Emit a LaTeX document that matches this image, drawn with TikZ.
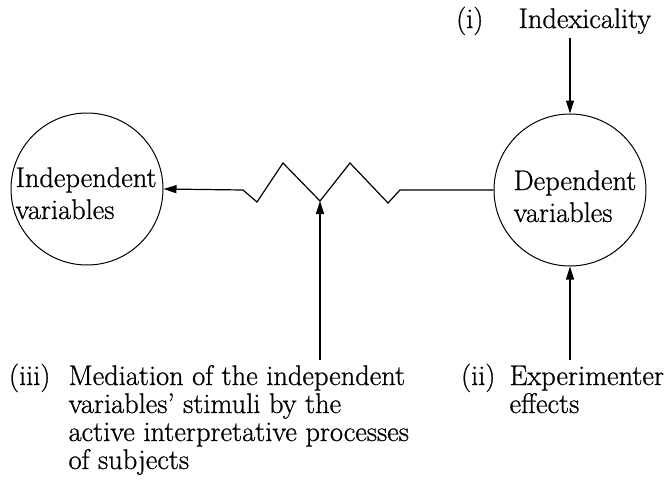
\documentclass[tikz,border=0pt]{standalone}
\usepackage{fontspec}
\newfontfamily\labelfont{Latin Modern Roman}[FakeBold=0.8]
\usetikzlibrary{arrows.meta}
\begin{document}
\begin{tikzpicture}[x=1pt,y=-1pt,
  line width=1.2pt,
  varcircle/.style={circle,draw,line width=1pt,minimum size=152pt,inner sep=0pt},
  txt/.style={inner sep=0pt,anchor=base west,font=\labelfont\fontsize{28.4}{30}\selectfont},
  tag/.style={inner sep=0pt,anchor=base east,font=\labelfont\fontsize{28.4}{30}\selectfont},
  arr/.style={-{Triangle[length=13pt,width=8pt]}}]
\useasboundingbox (0,0) rectangle (665,483);

% the two variable circles
\node[varcircle] (indep) at (87,189) {};
\node[varcircle] (dep) at (570,190) {};
\node[txt] (indepA) at (15,187) {Independent};
\node[txt] (indepB) at (15,219) {variables};
\node[txt] (depA) at (513,190) {Dependent};
\node[txt] (depB) at (513,222) {variables};

% zigzag link between the circles
\coordinate (zstart) at (243,190);
\coordinate (zmid) at (320,201);
\coordinate (zend) at (400,190);
\draw[arr] (zstart) -- (indep.east);
\draw (zstart) -- (257,202) -- (283,163) -- (zmid) -- (350,163) -- (388,203) -- (zend) -- (dep.west);

% (i) indexicality
\node[tag] (ti) at (484,28) {(i)};
\node[txt] (index) at (518,28) {Indexicality};
\coordinate (itop) at (570,38);
\draw[arr] (itop) -- (dep.north);

% (ii) experimenter effects
\coordinate (iibot) at (570,360);
\draw[arr] (iibot) -- (dep.south);
\node[tag] (tii) at (496,385) {(ii)};
\node[txt] (expA) at (509,385) {Experimenter};
\node[txt] (expB) at (509,413) {effects};

% (iii) mediation
\coordinate (iiibot) at (320,360);
\draw[arr] (iiibot) -- (zmid);
\node[tag] (tiii) at (51,385) {(iii)};
\node[txt] (medA) at (68,385) {Mediation of the independent};
\node[txt] (medB) at (68,413) {variables\textquoteright\ stimuli by the};
\node[txt] (medC) at (68,441) {active interpretative processes};
\node[txt] (medD) at (68,469) {of subjects};
\end{tikzpicture}
\end{document}
